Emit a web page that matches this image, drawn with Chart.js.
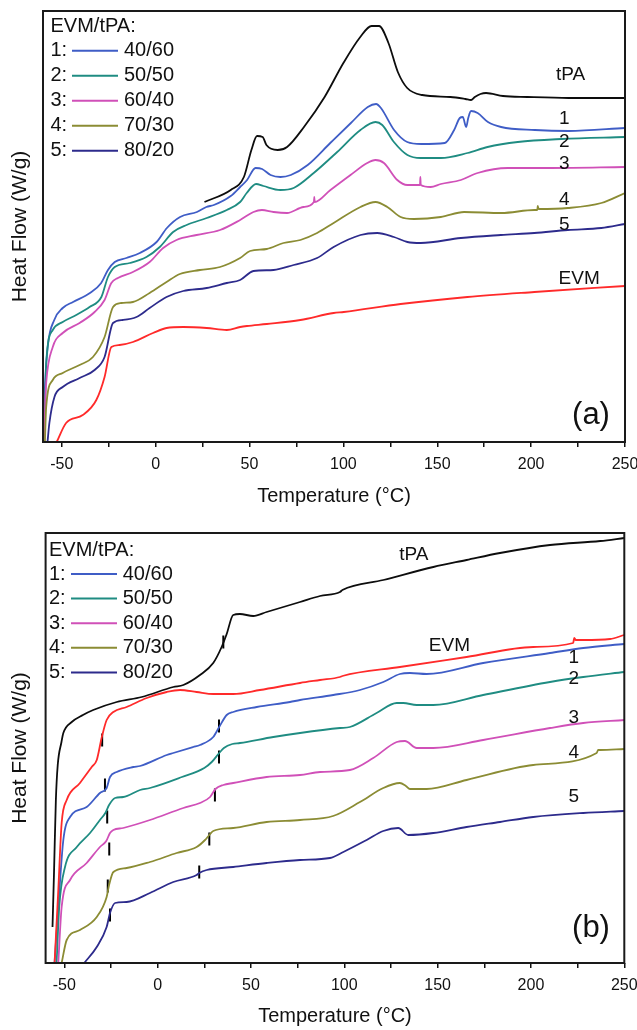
<!DOCTYPE html>
<html><head><meta charset="utf-8">
<script src="https://cdn.jsdelivr.net/npm/chart.js@4.4.1/dist/chart.umd.min.js"></script>
<style>
html,body{margin:0;padding:0;background:#fff;}
#wrap{position:relative;width:637px;height:1030px;overflow:hidden;background:#fff;}
canvas{position:absolute;left:0;}
</style></head><body>
<div id="wrap">
<canvas id="cA" width="637" height="520" style="top:0px"></canvas>
<canvas id="cB" width="637" height="510" style="top:520px"></canvas>
</div>
<script>
// ---------- tick labels / categories ----------
const xTickValues = [-50,-25,0,25,50,75,100,125,150,175,200,225,250];
const sampleNumbers = ['1','2','3','4','5'];
const blendLabels = ['40/60','50/50','60/40','70/30','80/20'];
const legendTitle = 'EVM/tPA:';

// ---------- panel (a): heating scan, heat flow (arbitrary offset units) ----------
const a_tPA_T = [26,40,47,51,54,57,59,65,70,79,90,100,109,115,119,124,129,134,142,157,165,168,170,173,176,185,198,220,250];
const a_tPA_V = [240,252,265,292,306,305,297,292,295,315,345,379,405,416,416,399,370,354,347,345,343,342,345,348,349,346,345,344,344];
const a_1_T = [-59.8,-59.2,-57.5,-54,-49.5,-44,-35,-29,-25.4,-21.8,-15.6,-8.4,0.5,6,13,22,27,31,40,45,48.7,53.2,56.7,61.2,66.5,72,81,93,104,113,117.4,120,127,134,141.5,154,159,162,163.6,165.4,166.5,168,171.5,177,184,202,220,250];
const a_1_V = [0,45,95,122,134,140,149,159,172,180,184,189,200,214,225,230,235,237,246,255,262,274,273,267,265,267,277,299,319,335,338,334,312,300,298,299,312,324,325,315,324,331,329,320,315,312,311,314];
const a_2_T = [-59.4,-58.8,-58.3,-54.8,-49.5,-42.3,-35.2,-28.9,-25.4,-21.8,-13.8,-4.9,2.2,9.3,16.5,27.2,37.9,45,48.5,53.5,57.4,66.4,73.5,84.2,96.7,109.1,117.1,120.7,126.9,134.1,141.2,151.9,166.1,176.8,192.9,216.1,250];
const a_2_V = [0,42,79,112,120,127,135,145,165,175,179,185,195,210,217,224,232,240,249,258,256,252,254,269,290,312,320,317,300,287,284,284,289,295,300,303,305];
const a_3_T = [-59.3,-58.8,-58.3,-54.8,-49.5,-40.5,-32.5,-27.2,-23.6,-20.1,-12.1,-3.2,4,11.1,21.8,34.3,45,52.1,56.6,62.8,70,78.8,84.3,84.5,84.7,93.1,103.8,112.7,117.1,121.6,128.7,134.1,140.8,141,141.2,146.5,151.9,162.6,171.5,187.5,210.7,250];
const a_3_V = [0,40,59,95,109,119,130,142,159,164,170,180,194,202,207,212,222,230,232,230,229,235,240,245,240,252,267,279,282,279,262,257,257,265,257,255,258,262,269,274,274,275];
const a_4_T = [-59,-58.3,-54.8,-49.5,-40.5,-33.4,-27.2,-22.7,-18.3,-12.1,-3.2,5.8,12.9,23.6,34.3,45,50.3,59.2,68.1,77.1,86,94.8,109.1,117.1,123.4,130.5,137.6,151.9,164.3,184.2,201.7,203.3,203.5,204,219.6,237.4,250];
const a_4_V = [0,35,62,69,77,85,105,135,139,140,149,160,168,172,175,184,191,193,199,202,209,219,235,240,235,225,223,225,230,229,232,232,236,233,234,239,249];
const a_5_T = [-57.6,-56.6,-53.9,-49.5,-40.5,-32.5,-27.2,-22.7,-17.4,-10.2,-3.2,5.8,14.7,27.2,37.9,45,52.1,62.8,73.5,86,94.8,109.1,118,126.9,134.1,141.2,162.6,183.9,201.7,219.6,237.4,250];
const a_5_V = [0,19,45,55,64,72,85,119,122,125,134,145,151,154,159,162,171,172,177,184,195,207,209,205,200,199,204,207,209,212,214,218];
const a_EVM_T = [-52.7,-47.7,-38.8,-31.6,-27.2,-23.6,-19.2,-12.1,-1.4,5.8,14.7,27.2,37.9,45,48.6,59.2,77.1,94.8,100.2,130.5,166.1,201.7,250];
const a_EVM_V = [0,19,27,42,65,95,97,100,109,114,115,114,112,115,116,118,122,129,130,138,145,150,156];

// ---------- panel (b) ----------
const b_tPA_T = [-56.3,-55.5,-54.5,-53.5,-51.5,-50.5,-46,-40,-34.5,-21.9,-8.5,8.4,13.8,22.7,29.8,34.3,37,40.5,44.1,51.2,58.4,76.3,87,97.7,99,120.9,147.7,165.5,183.4,210.2,237.1,250];
const b_tPA_V = [36,90,163,198,221,230,241,248,253,261,266,276,278,288,300,316,329,348,349,347,351,361,367,371,373,383,396,403,410,418,422,425];
const b_EVM_T = [-55.2,-53.2,-51.4,-48.7,-41.6,-35.3,-32.6,-30,-27.3,-23.7,-16.6,-5.8,4.9,12,20.9,29.8,40.5,54.8,76.3,87,97.7,99,129.8,165.5,201.2,222.6,223.2,224,228,242.4,250];
const b_EVM_V = [0,73,140,163,180,196,203,225,243,251,256,265,271,273,271,269,269,273,280,283,286,287,296,306,316,320,325,323,323,324,328];
const b_1_T = [-55.2,-53.2,-50.5,-46.9,-38,-30.9,-27.3,-25.5,-21.9,-13,-9.4,4.9,8.4,19.1,22.7,29.8,33,37,40.5,53.1,70.9,76.3,94.1,108.4,120.9,129.8,135.2,144.1,174.4,210.2,228,250];
const b_1_V = [0,56,123,146,156,170,175,186,191,196,197,208,210,216,218,226,236,248,251,256,261,263,268,273,281,289,290,289,300,310,315,319];
const b_2_T = [-54.1,-52.7,-49.6,-43.3,-36.2,-30.9,-28,-26,-22.8,-18.4,-9.4,-4.1,13,25,29,33,35.5,40,44.1,62,76.3,97.7,103,117.3,128.1,131.6,138.8,147.7,174.4,210.2,228,250];
const b_2_V = [0,56,96,116,130,143,150,158,165,166,173,175,186,195,201,210,215,219,220,226,230,235,236,250,260,260,258,258,268,281,286,291];
const b_3_T = [-53.2,-51.4,-46.9,-38,-30.9,-27.5,-25.5,-23.7,-18.4,-4.1,13.8,22.7,28.1,31,35.2,40.5,58.4,76.3,87,103,115.5,128.1,132.5,138.8,147.7,174.4,210.2,228,250];
const b_3_V = [0,56,83,100,116,122,130,133,135,143,155,160,166,174,178,180,186,188,191,193,205,221,222,215,215,223,235,240,243];
const b_4_T = [-51.4,-48.7,-41.6,-32.6,-27.3,-26,-23.7,-16.6,-4.1,10.2,20.9,25.4,27.7,29.8,40.5,58.4,76.3,94,108.4,120.9,129.8,133,135.2,144.1,165.5,201.2,235.2,236,237.1,250];
const b_4_V = [0,23,33,46,66,78,91,95,101,110,116,123,128,132,135,141,143,147,161,175,180,177,174,174,183,198,210,213,213,214];
const b_5_T = [-39.3,-32.6,-27.3,-25.5,-22.8,-16.6,-4.1,8.4,20.9,22.3,26.3,40.5,58.4,76.3,92.3,99.5,112,120.9,128.9,134.3,147.7,165.5,183.4,201.2,228,250];
const b_5_V = [0,16,36,50,60,61,70,81,88,90,93,96,100,103,105,111,123,132,135,128,130,136,141,146,150,152];
// glass-transition markers in (b): temperature and heat-flow level
const b_tg_T = [35.2,-29.7,-28.2,32.9,-27,32.9,-25.9,30.7,-26.7,27.7,-25.5,22.3];
const b_tg_V = [321,223,178,237,146,206,114,168,77,124,48,91];

// ---------- styling ----------
const FONT = '"Liberation Sans", Arial, Helvetica, sans-serif';
Chart.defaults.font.family = FONT;
Chart.defaults.color = '#111';
const COL = {tPA:'#0d0d0d', s1:'#3f5dc6', s2:'#1f8c82', s3:'#d050b8', s4:'#8b8c34', s5:'#2d2b8c', EVM:'#ff2a2a'};
const seriesColors = [COL.s1, COL.s2, COL.s3, COL.s4, COL.s5];

function pts(T, V){ return T.map((t,i)=>({x:t, y:V[i]})); }
function tgSegs(T, V, h){ const out=[]; T.forEach((t,i)=>{ out.push({x:t,y:V[i]-h},{x:t,y:V[i]+h},{x:t,y:null}); }); return out; }

function makeChart(id, p){
  const datasets = p.series.map(s => ({
    label:s.name, data:pts(s.T, s.V), borderColor:s.color, borderWidth:1.8,
    pointRadius:0, cubicInterpolationMode:'monotone', fill:false
  }));
  if (p.tg) datasets.push({label:'Tg', data:tgSegs(p.tg.T, p.tg.V, 6.5), borderColor:'#000',
    borderWidth:2, pointRadius:0, tension:0, spanGaps:false, fill:false});
  const d = p.decor;
  const decor = {
    id:'decor'+id,
    afterDatasetsDraw(chart){
      const {ctx, chartArea:a, scales:{x, y}} = chart;
      ctx.save();
      ctx.strokeStyle = '#1a1a1a'; ctx.lineWidth = 2;
      ctx.strokeRect(a.left, a.top, a.right - a.left, a.bottom - a.top);
      ctx.fillStyle = '#111'; ctx.textBaseline = 'middle'; ctx.textAlign = 'left';
      ctx.font = '20px ' + FONT;
      const L = d.legend;
      ctx.fillText(legendTitle, L.x, L.y0);
      sampleNumbers.forEach((n, i) => {
        const yy = L.y1 + i * L.dy;
        ctx.fillStyle = '#111';
        ctx.fillText(n + ':', L.x, yy);
        ctx.strokeStyle = seriesColors[i]; ctx.lineWidth = 2;
        ctx.beginPath(); ctx.moveTo(L.lx0, yy); ctx.lineTo(L.lx1, yy); ctx.stroke();
        ctx.fillText(blendLabels[i], L.tx, yy);
      });
      ctx.textAlign = 'center';
      ctx.font = '19px ' + FONT;
      d.labels.forEach(lb => ctx.fillText(lb.text, x.getPixelForValue(lb.t), y.getPixelForValue(lb.v)));
      ctx.font = '31px ' + FONT;
      ctx.fillText(d.panel, a.right + d.pdx, a.bottom + d.pdy);
      ctx.restore();
    }
  };
  return new Chart(document.getElementById(id), {
    type:'line',
    data:{datasets},
    options:{
      responsive:false, animation:false, devicePixelRatio:1,
      layout:{padding:p.pad},
      plugins:{legend:{display:false}, tooltip:{enabled:false}},
      scales:{
        x:{type:'linear', min:-60, max:250,
          afterFit:s=>{ s.height = p.xAxisH; s.paddingLeft = 0; s.paddingRight = 0; },
          afterBuildTicks:s=>{ s.ticks = xTickValues.map(v=>({value:v})); },
          ticks:{autoSkip:false, maxRotation:0, padding:8.4, font:{size:16}, color:'#111',
            callback:(v)=> (v % 50 === 0 ? String(v) : '')},
          grid:{display:true, drawOnChartArea:false, drawTicks:true, tickLength:5, color:'#111', lineWidth:1.5},
          border:{display:false},
          title:{display:true, text:'Temperature (°C)', font:{size:20}, color:'#111', padding:{top:0, bottom:p.xTitlePad}}
        },
        y:{type:'linear', min:0, max:p.yMax,
          afterFit:s=>{ s.width = p.yAxisW; s.paddingTop = 0; s.paddingBottom = 0; },
          ticks:{display:false},
          grid:{display:false},
          border:{display:false},
          title:{display:true, text:'Heat Flow (W/g)', font:{size:21}, color:'#111', padding:{top:7.4, bottom:0}}
        }
      }
    },
    plugins:[decor]
  });
}

makeChart('cA', {
  pad:{left:0, right:12, top:11, bottom:0}, xAxisH:78, yAxisW:43, yMax:431, xTitlePad:11.8,
  series:[
    {name:'tPA', T:a_tPA_T, V:a_tPA_V, color:COL.tPA},
    {name:'EVM', T:a_EVM_T, V:a_EVM_V, color:COL.EVM},
    {name:'5', T:a_5_T, V:a_5_V, color:COL.s5},
    {name:'4', T:a_4_T, V:a_4_V, color:COL.s4},
    {name:'3', T:a_3_T, V:a_3_V, color:COL.s3},
    {name:'2', T:a_2_T, V:a_2_V, color:COL.s2},
    {name:'1', T:a_1_T, V:a_1_V, color:COL.s1}
  ],
  decor:{
    legend:{x:50.5, y0:26.7, y1:50.7, dy:25, lx0:72, lx1:118, tx:124},
    labels:[{text:'tPA',t:221,v:367},{text:'1',t:217.6,v:323},{text:'2',t:217.6,v:300},{text:'3',t:217.6,v:278},
            {text:'4',t:217.6,v:242},{text:'5',t:217.6,v:217},{text:'EVM',t:225.6,v:163}],
    panel:'(a)', pdx:-34, pdy:-27
  }
});

makeChart('cB', {
  pad:{left:0, right:12.7, top:13, bottom:0}, xAxisH:67, yAxisW:45.6, yMax:430, xTitlePad:1.8,
  series:[
    {name:'tPA', T:b_tPA_T, V:b_tPA_V, color:COL.tPA},
    {name:'EVM', T:b_EVM_T, V:b_EVM_V, color:COL.EVM},
    {name:'5', T:b_5_T, V:b_5_V, color:COL.s5},
    {name:'4', T:b_4_T, V:b_4_V, color:COL.s4},
    {name:'3', T:b_3_T, V:b_3_V, color:COL.s3},
    {name:'2', T:b_2_T, V:b_2_V, color:COL.s2},
    {name:'1', T:b_1_T, V:b_1_V, color:COL.s1}
  ],
  tg:{T:b_tg_T, V:b_tg_V},
  decor:{
    legend:{x:49, y0:30, y1:54, dy:24.6, lx0:71, lx1:117, tx:122.7},
    labels:[{text:'tPA',t:137.3,v:408},{text:'EVM',t:156.3,v:317},{text:'1',t:223,v:305.5},{text:'2',t:223,v:284},
            {text:'3',t:223,v:245.5},{text:'4',t:223,v:210},{text:'5',t:223,v:166}],
    panel:'(b)', pdx:-33.3, pdy:-35
  }
});
</script>
</body></html>
